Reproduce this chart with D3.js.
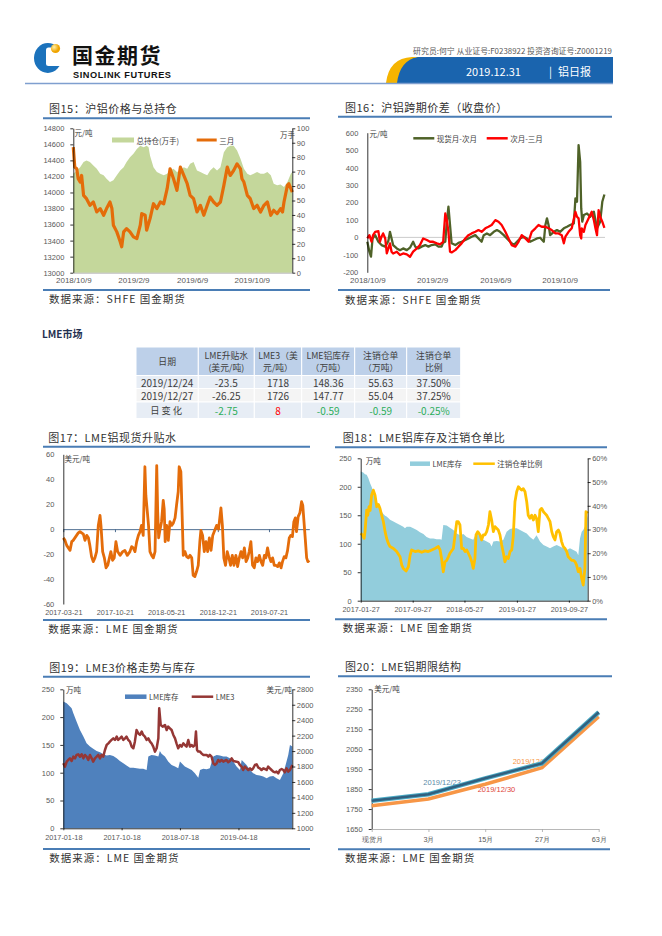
<!DOCTYPE html>
<html>
<head>
<meta charset="utf-8">
<script src="https://cdn.jsdelivr.net/npm/d3@7"></script>
<style>
  body { margin: 0; background: #fff; }
  svg { display: block; }
  .ax text { font-family: "Liberation Sans", Arial, sans-serif; font-size: 7.5px; fill: #595959; }
  .ax path, .ax line { stroke: #000; stroke-width: 0.8; }
</style>
</head>
<body>
<script>
// ---------- data ----------
// 图15 沪铝价格与总持仓 (day offset from start, value)
const c15Start = "2018-10-09";
const c15Ticks = ["2018-10-09", "2019-02-09", "2019-06-09", "2019-10-09"];
const c15LeftTicks = [13000, 13200, 13400, 13600, 13800, 14000, 14200, 14400, 14600, 14800];
const c15RightTicks = [0, 10, 20, 30, 40, 50, 60, 70, 80, 90, 100];
const c15OI = [[0,68.5],[7,70.8],[14,73],[21,76.6],[27,77.7],[34,76.6],[41,74.3],[48,72],[55,68.5],[62,67.4],[68,65],[75,62.8],[82,64],[89,67.4],[96,70.8],[103,73],[109,76.6],[116,80],[123,82.3],[130,85.7],[137,88],[144,86.9],[150,88],[154,86.9],[157,81],[164,73],[171,69.7],[178,68.5],[185,67.4],[192,68.5],[198,70.8],[205,72],[212,69.7],[219,70.8],[226,73],[233,72],[239,75.4],[246,76.6],[253,70.8],[260,69.7],[267,68.5],[274,67.4],[280,70.8],[287,73],[294,70.8],[301,73],[308,83.4],[315,86.9],[321,88],[328,88],[335,84.6],[342,78.9],[349,72],[356,68.5],[362,67.4],[369,68.5],[376,69.7],[383,68.5],[390,68.5],[397,69.7],[404,67.4],[410,61.6],[417,60.5],[424,61],[431,59.3],[438,62.8],[445,68.5],[448,69.7]];
const c15Price = [[0,14564],[3,14316],[7,14295],[10,14171],[14,14130],[17,14212],[21,13964],[27,13923],[34,13840],[41,13881],[48,13757],[55,13799],[62,13716],[68,13799],[75,13881],[79,13800],[82,13592],[89,13509],[96,13385],[99,13323],[103,13509],[109,13550],[116,13509],[123,13447],[130,13426],[137,13592],[140,13737],[147,13716],[150,13530],[157,13674],[164,13860],[171,13799],[178,13881],[185,13860],[192,14047],[198,14295],[205,14171],[212,14026],[219,14316],[226,14212],[233,14109],[239,13964],[246,13923],[253,13757],[260,13840],[267,13716],[274,13840],[280,13943],[287,13881],[294,13840],[301,13881],[308,14088],[315,14316],[321,14212],[328,14274],[335,14357],[342,14295],[345,14171],[349,14130],[356,13964],[362,13923],[369,13799],[376,13840],[383,13757],[390,13840],[397,13881],[404,13716],[410,13778],[417,13737],[424,13799],[428,13757],[431,13881],[438,14088],[441,14109],[448,14005]];

// 图16 沪铝跨期价差
const c16Start = "2018-10-09";
const c16Ticks = ["2018-10-09", "2019-02-09", "2019-06-09", "2019-10-09"];
const c16YTicks = [-200, -100, 0, 100, 200, 300, 400, 500, 600];
const c16SpotNext = [[0,-25],[4,-82],[7,-110],[10,-6],[15,13],[21,-25],[27,-44],[34,-53],[40,-20],[43,32],[49,-44],[56,-63],[62,-73],[68,-63],[75,-73],[81,-59],[87,-25],[91,-53],[97,-63],[103,-53],[110,-44],[116,-53],[122,-44],[129,-40],[135,-53],[141,-53],[144,-30],[148,-25],[151,90],[154,176],[157,71],[160,-34],[167,-44],[173,-31],[179,-25],[186,-15],[192,-6],[198,4],[205,13],[211,-6],[217,-25],[221,13],[227,23],[233,13],[240,32],[246,42],[252,32],[259,13],[265,-6],[271,-25],[278,-44],[284,-25],[290,-6],[297,4],[303,-6],[309,-25],[316,-15],[322,-6],[328,-2],[335,-25],[338,71],[341,109],[344,71],[347,13],[354,32],[360,42],[366,32],[373,52],[379,61],[385,71],[392,80],[395,223],[398,204],[401,529],[404,433],[406,166],[408,90],[411,128],[417,137],[423,118],[430,147],[436,52],[442,90],[446,204],[450,246]];
const c16NextThird = [[0,-6],[4,13],[8,-25],[11,13],[15,32],[21,36],[24,-25],[27,4],[30,23],[34,-6],[37,-92],[40,-63],[43,-34],[46,-82],[49,-92],[56,-82],[62,-101],[68,-92],[75,-97],[81,-111],[87,-82],[94,-63],[100,-44],[106,-6],[113,-15],[119,-25],[125,-25],[132,-34],[138,-40],[144,-25],[148,137],[151,99],[154,32],[157,-82],[160,-86],[167,-73],[173,-53],[179,-34],[186,-6],[192,13],[198,23],[205,32],[211,42],[217,32],[224,52],[230,61],[236,71],[243,99],[249,90],[255,71],[262,32],[268,-6],[274,-44],[281,-53],[287,-25],[293,13],[300,-6],[306,-25],[312,32],[319,52],[325,71],[331,61],[338,61],[344,52],[350,42],[357,23],[363,23],[369,13],[373,-34],[376,4],[382,32],[388,52],[395,147],[398,118],[401,109],[404,13],[406,-6],[407,52],[411,32],[414,71],[417,90],[423,128],[426,147],[430,99],[433,52],[436,13],[439,156],[442,118],[446,90],[450,55]];

// 表 LME市场
const tblHead = [["日期"], ["LME升贴水", "(美元/吨)"], ["LME3（美", "元/吨）"], ["LME铝库存", "（万吨）"], ["注销仓单", "（万吨）"], ["注销仓单", "比例"]];
const tblRows = [
  ["2019/12/24", "-23.5", "1718", "148.36", "55.63", "37.50%"],
  ["2019/12/27", "-26.25", "1726", "147.77", "55.04", "37.25%"],
  ["日变化", "-2.75", "8", "-0.59", "-0.59", "-0.25%"]
];

// 图17 LME铝现货升贴水
const c17Start = "2017-03-21";
const c17Ticks = ["2017-03-21", "2017-10-21", "2018-05-21", "2018-12-21", "2019-07-21"];
const c17YTicks = [-60, -40, -20, 0, 20, 40, 60];
const c17Premium = [[0,-7],[7,-9],[14,-13],[21,-15],[28,-17],[35,-10],[41,-9],[48,-7],[55,-5],[62,-3],[69,-2],[76,-3],[83,-4],[90,-9],[97,-5],[104,-7],[110,-13],[117,-22],[124,-26],[131,-23],[138,-18],[145,3],[152,11],[156,3],[163,-18],[170,-23],[177,-31],[184,-29],[191,-23],[197,-18],[204,-25],[211,-23],[218,-10],[225,-18],[235,-21],[246,-18],[255,-17],[265,-21],[276,-18],[283,-14],[290,-15],[297,-18],[304,-10],[311,-5],[318,-2],[324,3],[331,-5],[338,50],[342,27],[348,14],[353,3],[359,-18],[366,-21],[373,-23],[380,-18],[387,51],[391,14],[395,-7],[400,-1],[407,6],[414,23],[418,16],[422,-10],[428,3],[435,-9],[442,6],[449,3],[456,5],[463,9],[469,19],[476,30],[480,50],[487,46],[493,6],[497,-21],[504,-18],[511,-22],[518,-23],[525,-21],[532,-23],[538,-37],[545,-38],[552,-34],[559,-29],[566,-9],[570,-1],[577,-5],[584,-18],[591,-10],[598,-18],[605,-7],[612,-17],[619,-5],[625,-2],[635,3],[643,0],[653,17],[659,3],[665,-23],[672,-29],[679,-18],[686,-23],[693,-29],[700,-21],[707,-29],[715,-21],[722,-30],[729,-23],[736,-18],[743,-23],[750,-15],[757,-26],[764,-23],[770,-18],[777,-10],[784,-29],[791,-31],[798,-23],[805,-26],[812,-21],[819,-26],[826,-29],[833,-21],[839,-23],[846,-15],[853,-22],[860,-26],[867,-23],[874,-29],[881,-29],[888,-30],[895,-27],[902,-31],[908,-26],[915,-22],[922,-23],[929,-17],[936,-7],[942,-5],[949,-6],[955,6],[961,9],[966,-2],[973,10],[980,13],[987,22],[992,19],[997,6],[1002,-7],[1008,-23],[1013,-26],[1019,-25]];

// 图18 LME铝库存及注销仓单比
const c18Start = "2017-01-27";
const c18Ticks = ["2017-01-27", "2017-09-27", "2018-05-27", "2019-01-27", "2019-09-27"];
const c18LeftTicks = [0, 50, 100, 150, 200, 250];
const c18RightTicks = [0, 10, 20, 30, 40, 50, 60];
const c18Stock = [[0,227],[12,225],[20,222],[28,221],[36,215],[44,206],[51,200],[59,191],[67,183],[75,174],[83,168],[90,162],[98,156],[106,152],[114,149],[121,148],[129,145],[137,142],[153,139],[168,136],[184,133],[199,130],[207,127],[215,130],[231,130],[246,127],[262,124],[277,120],[293,117],[308,112],[324,109],[340,109],[355,108],[371,108],[378,107],[386,133],[402,132],[417,128],[433,124],[449,118],[464,115],[480,117],[495,112],[511,109],[526,107],[542,120],[558,112],[573,107],[589,104],[604,101],[612,95],[620,104],[636,105],[651,104],[667,107],[682,121],[698,126],[713,127],[729,127],[745,124],[760,121],[776,118],[791,112],[807,107],[822,115],[838,104],[854,98],[869,95],[885,92],[900,95],[916,98],[931,95],[947,92],[963,89],[978,92],[994,89],[1009,86],[1017,80],[1025,109],[1033,121],[1040,124],[1048,130],[1061,150]];
const c18Ratio = [[0,28.4],[8,27.7],[16,26.3],[20,29],[28,38.2],[33,36],[39,39.6],[44,38],[51,44.5],[59,46.6],[67,44.5],[75,39.6],[83,40.5],[90,38.9],[98,36],[106,33.3],[114,29.1],[121,26.3],[129,24.2],[137,22.8],[153,22],[168,20.7],[184,18.5],[192,15],[199,13.6],[212,12.5],[223,14.3],[231,19.2],[238,21.4],[254,20.7],[269,21],[285,20.4],[301,21],[316,20.7],[332,21.4],[347,22],[363,22.8],[371,21.4],[378,17.8],[386,12.2],[394,16.4],[402,17],[410,18.5],[417,20],[433,22],[441,27.7],[449,33.3],[456,33.3],[464,31.9],[472,22],[480,22],[488,20.7],[495,21.4],[503,20],[511,18.5],[519,16.4],[526,13.6],[534,17.8],[539,27.7],[547,29.1],[558,27.7],[565,25.6],[573,27.7],[581,27.7],[589,29.1],[597,31.9],[604,37.5],[612,34],[620,29.1],[628,31.2],[643,29.8],[651,27.7],[659,23.5],[667,20],[674,16.4],[682,18.5],[690,17.8],[698,20.7],[706,21.4],[713,27],[721,41.7],[729,45.9],[737,48],[745,47.2],[752,46.6],[760,47.2],[768,45.9],[776,41.7],[783,36],[791,34.7],[799,36],[807,34],[815,36],[822,34.7],[830,29.1],[838,38.2],[846,38.9],[854,37.5],[861,36.8],[869,36],[877,34.7],[885,33.3],[893,29.1],[900,27],[908,25.6],[916,29.1],[924,29.8],[931,28.4],[939,24.9],[947,22.8],[955,22],[963,20.7],[970,18.5],[978,17.8],[986,17],[994,17],[1002,16.4],[1009,15],[1017,12.2],[1025,13.6],[1033,9.4],[1040,6.6],[1048,13.6],[1053,37.5],[1061,36.8]];

// 图19 LME3价格走势与库存
const c19Start = "2017-01-18";
const c19Ticks = ["2017-01-18", "2017-10-18", "2018-07-18", "2019-04-18"];
const c19LeftTicks = [0, 50, 100, 150, 200, 250];
const c19RightTicks = [1000, 1200, 1400, 1600, 1800, 2000, 2200, 2400, 2600, 2800];
const c19Stock = [[0,228],[16,225],[31,219],[39,216],[47,207],[62,192],[78,177],[94,165],[109,153],[125,147],[140,143],[156,139],[172,137],[187,133],[203,131],[218,132],[234,130],[250,126],[265,121],[281,117],[296,113],[312,109],[328,109],[343,108],[359,107],[374,107],[390,105],[398,129],[413,132],[429,131],[445,129],[452,139],[460,134],[476,129],[491,120],[507,114],[523,111],[538,108],[546,120],[554,117],[569,111],[585,108],[601,105],[616,99],[632,91],[640,105],[655,107],[671,106],[686,108],[702,129],[718,132],[733,131],[749,129],[764,129],[780,126],[796,120],[811,111],[827,105],[835,123],[842,120],[858,114],[874,105],[889,99],[905,96],[920,95],[936,93],[952,90],[967,93],[983,94],[998,90],[1014,87],[1030,99],[1045,120],[1053,132],[1061,150],[1072,147]];
const c19Price = [[0,1842],[8,1799],[16,1863],[23,1885],[31,1906],[39,1872],[47,1928],[55,1906],[62,1950],[70,1958],[78,1928],[86,1958],[94,1906],[101,1950],[109,1928],[117,1885],[125,1950],[133,1906],[140,1863],[148,1906],[156,1928],[164,1950],[172,1906],[179,1950],[187,1928],[195,2014],[203,2079],[211,2101],[218,2122],[226,2144],[234,2165],[242,2144],[250,2187],[257,2144],[265,2165],[273,2187],[281,2144],[289,2165],[296,2187],[304,2144],[312,2122],[320,2058],[328,2036],[335,2122],[343,2273],[351,2230],[359,2209],[367,2252],[374,2209],[382,2187],[390,2144],[398,2165],[406,2122],[413,2101],[421,2058],[429,1993],[437,2036],[445,2165],[449,2554],[456,2338],[465,2317],[476,2338],[484,2273],[491,2317],[499,2295],[507,2273],[515,2209],[523,2165],[530,2101],[538,2036],[546,2079],[554,2058],[562,2101],[569,2079],[577,2058],[585,2144],[593,2058],[601,2079],[608,2058],[616,2079],[621,2252],[626,2014],[632,1993],[640,1993],[647,1971],[655,1950],[671,1950],[679,1928],[686,1950],[694,1928],[702,1842],[710,1820],[718,1842],[725,1885],[733,1863],[741,1885],[749,1863],[764,1885],[772,1855],[780,1872],[788,1906],[796,1872],[811,1863],[819,1855],[827,1820],[835,1799],[842,1755],[850,1799],[858,1777],[866,1755],[874,1777],[881,1755],[889,1777],[897,1820],[905,1829],[913,1786],[920,1777],[928,1755],[936,1777],[944,1768],[952,1755],[959,1799],[967,1777],[975,1755],[983,1734],[991,1725],[998,1734],[1006,1712],[1014,1755],[1022,1768],[1030,1755],[1037,1725],[1045,1777],[1053,1734],[1061,1755],[1069,1799],[1072,1820]];

// 图20 LME铝期限结构
const c20Cats = ["现货月", "3月", "15月", "27月", "63月"];
const c20YTicks = [1650, 1750, 1850, 1950, 2050, 2150, 2250, 2350];
const c20Dec23 = [1792, 1824, 1904, 1979, 2235];
const c20Dec30 = [1767, 1800, 1874, 1957, 2213];

// ---------- helpers ----------
const CN = '"Noto Sans CJK SC", sans-serif';
const parse = d3.timeParse("%Y-%m-%d");
const at = (start, d) => d3.timeDay.offset(parse(start), d);
const fmtSlash = d3.timeFormat("%Y/%-m/%-d");
const fmtDash = d3.timeFormat("%Y-%m-%d");

const svg = d3.select("body").append("svg").attr("width", 662).attr("height", 936);

function txt(x, y, s, o = {}) {
  return svg.append("text").attr("x", x).attr("y", y).text(s)
    .attr("font-family", o.font || CN).attr("font-size", o.size || 7.5)
    .attr("fill", o.fill || "#404040").attr("text-anchor", o.anchor || "start")
    .attr("dominant-baseline", "central")
    .attr("font-weight", o.weight || null)
    .attr("letter-spacing", o.ls || null);
}

function hline(x1, x2, y, color, w) {
  svg.append("line").attr("x1", x1).attr("x2", x2).attr("y1", y).attr("y2", y)
    .attr("stroke", color).attr("stroke-width", w);
}

function frame(f) {
  txt(f.tx, f.ty, f.title, { size: 11, fill: "#333", ls: 0.5 });
  hline(f.x1, f.x2, f.ly, "#4A7DB5", 2);
  hline(f.x1, f.sx2 || f.x2, f.sly, "#4A7DB5", 2);
  txt(f.tx, f.sy, f.source, { size: 10.5, fill: "#333", ls: 1 });
}

function yAxis(scale, x, ticks, side, fmt) {
  const ax = (side === "left" ? d3.axisLeft(scale) : d3.axisRight(scale))
    .tickValues(ticks).tickSize(3).tickSizeOuter(0)
    .tickPadding(side === "left" ? 6 : 1.5)
    .tickFormat(fmt || (d => String(d)));
  return svg.append("g").attr("class", "ax").attr("transform", `translate(${x},0)`).call(ax);
}

function xAxis(scale, y, ticks, fmt, o = {}) {
  const g = svg.append("g").attr("class", "ax").attr("transform", `translate(0,${y})`)
    .call(d3.axisBottom(scale).tickValues(ticks).tickFormat(fmt)
      .tickSize(o.tick || 0).tickSizeOuter(0).tickPadding(o.pad || 3));
  g.selectAll("text").style("font-size", (o.size || 7.5) + "px");
  if (o.noDomain) g.select(".domain").remove();
  if (o.color) g.selectAll("path,line").style("stroke", o.color);
  return g;
}

function legRect(x, y, w, h, color, label) {
  svg.append("rect").attr("x", x).attr("y", y - h / 2).attr("width", w).attr("height", h).attr("fill", color);
  txt(x + w + 2.5, y, label);
}
function legLine(x, w, y, color, sw, label) {
  hline(x, x + w, y, color, sw);
  txt(x + w + 2.5, y, label);
}
function linePath(data, x, y, start, color, sw) {
  svg.append("path").datum(data).attr("fill", "none").attr("stroke", color)
    .attr("stroke-width", sw).attr("stroke-linejoin", "round")
    .attr("d", d3.line().x(d => x(at(start, d[0]))).y(d => y(d[1])));
}
function areaPath(data, x, y, start, color) {
  svg.append("path").datum(data).attr("fill", color)
    .attr("d", d3.area().x(d => x(at(start, d[0]))).y0(y.range()[0]).y1(d => y(d[1])));
}

// ---------- header ----------
svg.append("ellipse").attr("cx", 47.8).attr("cy", 58).attr("rx", 13.8).attr("ry", 15).attr("fill", "#1B72BC");
svg.append("rect").attr("x", 46).attr("y", 47.5).attr("width", 16).attr("height", 18.5).attr("rx", 2.5).attr("fill", "#fff");
const grad = svg.append("defs").append("radialGradient").attr("id", "ball").attr("cx", "35%").attr("cy", "35%");
grad.append("stop").attr("offset", "0%").attr("stop-color", "#FFF1A8");
grad.append("stop").attr("offset", "100%").attr("stop-color", "#EFA400");
svg.append("circle").attr("cx", 55.5).attr("cy", 48.5).attr("r", 4.6).attr("fill", "url(#ball)");
txt(72, 54, "国金期货", { size: 21, weight: 700, fill: "#111", ls: 1.5 });
txt(73, 75, "SINOLINK FUTURES", { font: '"Liberation Sans", Arial, sans-serif', size: 9.2, weight: 700, fill: "#111" })
  .attr("textLength", 98);

txt(612, 50, "研究员:何宁  从业证号:F0238922  投资咨询证号:Z0001219", { size: 7.9, anchor: "end", fill: "#595959" });
svg.append("path").attr("d", "M396,83 Q398,59 417,57 L613,57 L613,83 Z").attr("fill", "#1A64AE");
svg.append("path").attr("d", "M386,83 Q389,58 412,57 L418,57 Q400,60 397,83 Z").attr("fill", "#F5B400");
txt(466, 70.5, "2019.12.31", { size: 11, fill: "#fff" });
txt(549, 70.5, "|", { size: 11, fill: "#fff" });
txt(558, 70.5, "铝日报", { size: 11, fill: "#fff" });
hline(25, 613, 83.5, "#7F9FCF", 1.5);

// ---------- 图15 ----------
frame({ x1: 43, x2: 310, tx: 49, ty: 107.7, ly: 118.3, sly: 290, sy: 298.5,
  title: "图15：沪铝价格与总持仓", source: "数据来源：SHFE 国金期货" });
{
  const x = d3.scaleTime().domain([parse(c15Start), at(c15Start, 448)]).range([73.3, 292.3]);
  const yL = d3.scaleLinear().domain([13000, 14800]).range([272.7, 128.3]);
  const yR = d3.scaleLinear().domain([0, 100]).range([272.7, 128.3]);
  areaPath(c15OI, x, yR, c15Start, "#C4D79B");
  linePath(c15Price, x, yL, c15Start, "#E46C0A", 3.2);
  yAxis(yL, 73.3, c15LeftTicks, "left");
  yAxis(yR, 292.3, c15RightTicks, "right");
  xAxis(x, 272.7, c15Ticks.map(parse), fmtSlash, { pad: 4.5, size: 8, color: "#A6A6A6" });
  txt(74.5, 132.7, "元/吨");
  txt(280, 134, "万手");
  legRect(112, 140, 22, 5, "#C4D79B", "总持仓(万手)");
  legLine(196.7, 20, 140, "#E46C0A", 3, "三月");
}

// ---------- 图16 ----------
frame({ x1: 338, x2: 612, sx2: 610, tx: 345, ty: 106.7, ly: 116.7, sly: 290, sy: 299,
  title: "图16：沪铝跨期价差（收盘价）", source: "数据来源：SHFE 国金期货" });
{
  const x = d3.scaleTime().domain([parse(c16Start), at(c16Start, 450)]).range([367.3, 604.4]);
  const y = d3.scaleLinear().domain([-200, 600]).range([272.3, 132.7]);
  hline(367.3, 605, y(0), "#BFBFBF", 0.8);
  linePath(c16SpotNext, x, y, c16Start, "#4F6228", 2.3);
  linePath(c16NextThird, x, y, c16Start, "#FF0000", 2.3);
  yAxis(y, 367.3, c16YTicks, "left").selectAll(".tick line").remove();
  xAxis(x, 272.3, c16Ticks.map(parse), fmtSlash, { pad: 5, size: 8, noDomain: true });
  txt(369.5, 133.3, "元/吨");
  legLine(413.3, 21, 138.3, "#4F6228", 2.5, "现货月-次月");
  legLine(486.7, 21, 138.3, "#FF0000", 2.5, "次月-三月");
}

// ---------- LME市场 table ----------
txt(42, 333.3, "LME市场", { size: 10, weight: 700, fill: "#1F3050" });
{
  const cols = [136, 198.3, 254.3, 301.7, 354.7, 406.7, 460.7];
  const rows = [347, 375.5, 388.5, 402, 418.5];
  const fills = ["#BDD0E9", "#E7EDF5", "#F4F4F4", "#E7EDF5"];
  const changeColors = ["#404040", "#2EAD5B", "#FF0000", "#2EAD5B", "#2EAD5B", "#2EAD5B"];
  for (let r = 0; r < 4; r++) {
    for (let c = 0; c < 6; c++) {
      svg.append("rect").attr("x", cols[c]).attr("y", rows[r])
        .attr("width", cols[c + 1] - cols[c]).attr("height", rows[r + 1] - rows[r])
        .attr("fill", fills[r]).attr("stroke", "#fff").attr("stroke-width", 1);
    }
  }
  tblHead.forEach((lines, c) => {
    const cx = (cols[c] + cols[c + 1]) / 2;
    const cy = (rows[0] + rows[1]) / 2;
    lines.forEach((s, i) => {
      const yy = lines.length === 1 ? cy : cy + (i - 0.5) * 12;
      txt(cx, yy, s, { size: 8.8, anchor: "middle", fill: "#404040" });
    });
  });
  tblRows.forEach((row, r) => {
    const cy = (rows[r + 1] + rows[r + 2]) / 2;
    row.forEach((s, c) => {
      const cx = (cols[c] + cols[c + 1]) / 2;
      const color = r === 2 ? changeColors[c] : "#404040";
      txt(cx, cy, s, { size: r === 2 && c === 0 ? 9.3 : 10, anchor: "middle", fill: color, ls: r === 2 && c === 0 ? 2 : null });
    });
  });
}

// ---------- 图17 ----------
frame({ x1: 43, x2: 310, tx: 48.3, ty: 436.7, ly: 446.7, sly: 620, sy: 628.3,
  title: "图17：LME铝现货升贴水", source: "数据来源：LME 国金期货" });
{
  const x = d3.scaleTime().domain([parse(c17Start), at(c17Start, 1019)]).range([63.3, 309.3]);
  const y = d3.scaleLinear().domain([-60, 60]).range([604, 454.3]);
  const z = svg.append("g").attr("class", "ax").attr("transform", `translate(0,${y(0)})`)
    .call(d3.axisBottom(x).tickValues(c17Ticks.map(parse)).tickSize(3).tickSizeOuter(0).tickFormat(""));
  z.selectAll("path,line").style("stroke", "#4F6E91").style("stroke-width", 1);
  linePath(c17Premium, x, y, c17Start, "#E46C0A", 2.8);
  yAxis(y, 63.3, c17YTicks, "left").selectAll(".tick line").remove();
  xAxis(x, 604, c17Ticks.map(parse), fmtDash, { pad: 5.5, size: 7.3, noDomain: true });
  txt(64.5, 458.3, "美元/吨");
}

// ---------- 图18 ----------
frame({ x1: 335, x2: 607, tx: 342.7, ty: 436.7, ly: 447.3, sly: 619.3, sy: 627.7,
  title: "图18：LME铝库存及注销仓单比", source: "数据来源：LME 国金期货" });
{
  const x = d3.scaleTime().domain([parse(c18Start), at(c18Start, 1061)]).range([360.7, 587.7]);
  const yL = d3.scaleLinear().domain([0, 250]).range([600.7, 458.3]);
  const yR = d3.scaleLinear().domain([0, 60]).range([600.7, 458.3]);
  areaPath(c18Stock, x, yL, c18Start, "#92CDDC");
  linePath(c18Ratio, x, yR, c18Start, "#FFC000", 2.8);
  yAxis(yL, 360.7, c18LeftTicks, "left");
  yAxis(yR, 587.7, c18RightTicks, "right", d => d + "%");
  xAxis(x, 600.7, c18Ticks.map(parse), fmtDash, { pad: 4, size: 7.3, tick: 2 });
  txt(365.7, 460.7, "万吨");
  legRect(410, 463.7, 20, 4.5, "#92CDDC", "LME库存");
  legLine(473.3, 21.5, 463.7, "#FFC000", 2.5, "注销仓单比例");
}

// ---------- 图19 ----------
frame({ x1: 43, x2: 310, tx: 49.3, ty: 666.7, ly: 676.7, sly: 849, sy: 857.3,
  title: "图19：LME3价格走势与库存", source: "数据来源：LME 国金期货" });
{
  const x = d3.scaleTime().domain([parse(c19Start), at(c19Start, 1072)]).range([63.3, 292.3]);
  const yL = d3.scaleLinear().domain([0, 250]).range([828.3, 689.3]);
  const yR = d3.scaleLinear().domain([1000, 2800]).range([828.3, 689.3]);
  areaPath(c19Stock, x, yL, c19Start, "#4F81BD");
  linePath(c19Price, x, yR, c19Start, "#953735", 2.5);
  yAxis(yL, 63.3, c19LeftTicks, "left");
  yAxis(yR, 292.3, c19RightTicks, "right");
  xAxis(x, 828.3, c19Ticks.map(parse), fmtDash, { pad: 5, size: 7.3, tick: 2 });
  txt(66, 689.3, "万吨");
  txt(292, 689.3, "美元/吨", { anchor: "end" });
  legRect(125, 696.7, 21.5, 4.5, "#4F81BD", "LME库存");
  legLine(191.7, 21.5, 696.7, "#953735", 2.5, "LME3");
}

// ---------- 图20 ----------
frame({ x1: 338, x2: 612, sx2: 610, tx: 345, ty: 666, ly: 676.3, sly: 849.3, sy: 857.7,
  title: "图20：LME铝期限结构", source: "数据来源：LME 国金期货" });
{
  const x = d3.scalePoint().domain(c20Cats).range([371.7, 598.7]);
  const y = d3.scaleLinear().domain([1650, 2350]).range([829, 689.3]);
  yAxis(y, 371.7, c20YTicks, "left");
  xAxis(x, 829, c20Cats, d => d, { pad: 4.5, size: 7.3, tick: 3, color: "#A6A6A6" });
  txt(423.3, 782.7, "2019/12/23", { font: '"Liberation Sans", Arial, sans-serif', fill: "#5B8BA8" });
  txt(512.7, 761, "2019/12/27", { font: '"Liberation Sans", Arial, sans-serif', fill: "#F79646" });
  txt(477.7, 789.3, "2019/12/30", { font: '"Liberation Sans", Arial, sans-serif', fill: "#E0453A" });
  const line = d3.line().x((d, i) => x(c20Cats[i])).y(d => y(d));
  svg.append("path").datum(c20Dec30).attr("fill", "none").attr("stroke", "#F79646").attr("stroke-width", 3.5).attr("d", line);
  svg.append("path").datum(c20Dec23).attr("fill", "none").attr("stroke", "#4BACC6").attr("stroke-width", 4.5).attr("d", line);
  svg.append("path").datum(c20Dec23).attr("fill", "none").attr("stroke", "#31607F").attr("stroke-width", 2.5).attr("d", line);
  txt(374.3, 688.3, "美元/吨");
}
</script>
</body>
</html>
